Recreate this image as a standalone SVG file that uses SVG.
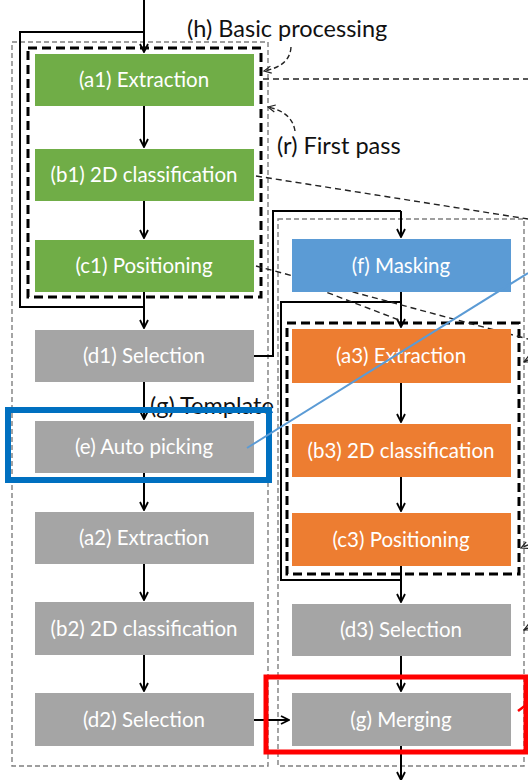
<svg xmlns="http://www.w3.org/2000/svg" width="528" height="780" viewBox="0 0 528 780">
<style>
.box text{font-family:Lato,"Liberation Sans",sans-serif;font-size:20.5px;fill:#fff;text-anchor:middle}
.lbl{font-family:Lato,"Liberation Sans",sans-serif;font-size:23.5px;fill:#111}
.gd{fill:none;stroke:#7f7f7f;stroke-width:1.4;stroke-dasharray:5 3}
.bd{fill:none;stroke:#000;stroke-width:3;stroke-dasharray:9 5}
.ln{fill:none;stroke:#000;stroke-width:2}
.ar{fill:none;stroke:#000;stroke-width:2;marker-end:url(#a)}
.dl{fill:none;stroke:#222;stroke-width:1.4;stroke-dasharray:6 4}
.da{fill:none;stroke:#222;stroke-width:1.4;stroke-dasharray:5 3;marker-end:url(#s)}
.g{fill:#70ad47}.b{fill:#5b9bd5}.o{fill:#ed7d31}.y{fill:#a5a5a5}
</style>
<defs>
<marker id="a" viewBox="0 0 10 10" refX="9" refY="5" markerWidth="10" markerHeight="10" markerUnits="userSpaceOnUse" orient="auto"><path d="M1,1 L9,5 L1,9" fill="none" stroke="#000" stroke-width="1.8"/></marker>
<marker id="s" viewBox="0 0 10 10" refX="9" refY="5" markerWidth="9" markerHeight="9" markerUnits="userSpaceOnUse" orient="auto"><path d="M1,1 L9,5 L1,9" fill="none" stroke="#222" stroke-width="1.3"/></marker>
</defs>
<g id="containers">
<rect class="gd" x="12" y="42" width="256" height="724"/>
<rect class="gd" x="278" y="219" width="246" height="547"/>
<rect class="bd" x="28" y="48" width="233" height="249"/>
<rect class="bd" x="287" y="323" width="232" height="251"/>
</g>
<g id="connectors">
<path class="ln" d="M144,32 H20 V307 H144"/>
<path class="ar" d="M144,0 V52"/>
<path class="ar" d="M144,106 V147"/>
<path class="ar" d="M144,201 V238"/>
<path class="ar" d="M144,292 V328"/>
<path class="ar" d="M144,382 V419"/>
<path class="ar" d="M144,473 V510"/>
<path class="ar" d="M144,564 V600"/>
<path class="ar" d="M144,655 V691"/>
<path class="ar" d="M254,720 H289"/>
<path class="ln" d="M254,356 H273 V211 H401"/>
<path class="ar" d="M401,211 V237"/>
<path class="ln" d="M401,580 H281 V302 H401"/>
<path class="ar" d="M401,292 V327"/>
<path class="ar" d="M401,383 V422"/>
<path class="ar" d="M401,477 V511"/>
<path class="ar" d="M401,566 V602"/>
<path class="ar" d="M401,656 V691"/>
<path class="ar" d="M401,746 V780"/>
<path class="dl" d="M263,79 H528"/>
<path class="dl" d="M256,176 L528,219"/>
<path class="dl" d="M256,266 L528,339"/>
<path class="dl" d="M318,289 L399,320"/>
<path class="da" d="M291,47 Q290,66 264,71"/>
<path class="da" d="M295,131 Q292,112 268,107"/>
<path class="da" d="M528,545 L521,548"/>
<path class="da" d="M528,628 L524,630"/>
<path class="da" d="M528,360 L524,362"/>
</g>
<g id="n-a1" class="box"><rect class="g" x="35" y="54" width="219" height="52"/><text x="144" y="87">(a1) Extraction</text></g>
<g id="n-b1" class="box"><rect class="g" x="35" y="149" width="219" height="52"/><text x="144" y="182">(b1) 2D classification</text></g>
<g id="n-c1" class="box"><rect class="g" x="35" y="240" width="219" height="52"/><text x="144" y="273">(c1) Positioning</text></g>
<g id="n-d1" class="box"><rect class="y" x="35" y="330" width="219" height="52"/><text x="144" y="363">(d1) Selection</text></g>
<g id="n-e" class="box"><rect class="y" x="35" y="421" width="219" height="52"/><text x="144" y="454">(e) Auto picking</text></g>
<g id="n-a2" class="box"><rect class="y" x="35" y="512" width="219" height="52"/><text x="144" y="545">(a2) Extraction</text></g>
<g id="n-b2" class="box"><rect class="y" x="35" y="602" width="219" height="53"/><text x="144" y="636">(b2) 2D classification</text></g>
<g id="n-d2" class="box"><rect class="y" x="35" y="693" width="219" height="53"/><text x="144" y="727">(d2) Selection</text></g>
<g id="n-f" class="box"><rect class="b" x="292" y="239" width="219" height="53"/><text x="401" y="273">(f) Masking</text></g>
<g id="n-a3" class="box"><rect class="o" x="292" y="329" width="219" height="54"/><text x="401" y="363">(a3) Extraction</text></g>
<g id="n-b3" class="box"><rect class="o" x="292" y="424" width="219" height="53"/><text x="401" y="458">(b3) 2D classification</text></g>
<g id="n-c3" class="box"><rect class="o" x="292" y="513" width="219" height="53"/><text x="401" y="547">(c3) Positioning</text></g>
<g id="n-d3" class="box"><rect class="y" x="292" y="604" width="219" height="52"/><text x="401" y="637">(d3) Selection</text></g>
<g id="n-g" class="box"><rect class="y" x="292" y="693" width="219" height="53"/><text x="401" y="727">(g) Merging</text></g>
<g id="labels">
<text class="lbl" x="187" y="37">(h) Basic processing</text>
<text class="lbl" x="277" y="154">(r) First pass</text>
<text class="lbl" x="150" y="414">(g) Template</text>
</g>
<g id="highlights">
<rect x="8" y="410" width="261" height="70" fill="none" stroke="#0070c0" stroke-width="6"/>
<path d="M247,448 L528,273" stroke="#5b9bd5" stroke-width="2" fill="none"/>
<rect x="266" y="677" width="260" height="75" fill="none" stroke="#ff0000" stroke-width="5"/>
<path d="M518,711 L526,705" stroke="#ff0000" stroke-width="2.5" fill="none"/>
</g>
</svg>
